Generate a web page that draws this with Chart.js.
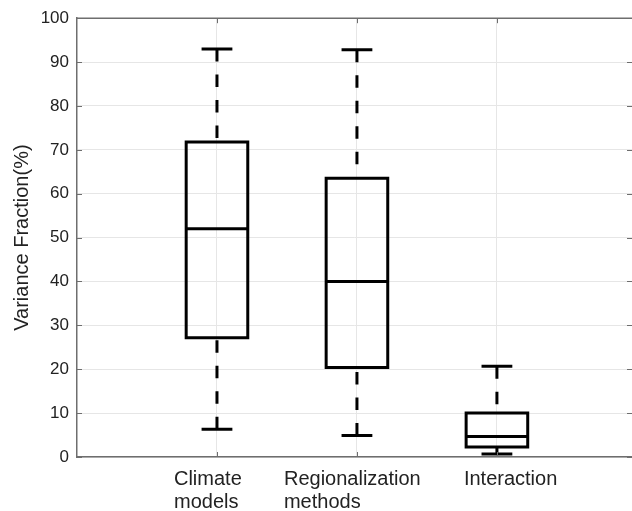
<!DOCTYPE html>
<html>
<head>
<meta charset="utf-8">
<script src="https://cdn.jsdelivr.net/npm/chart.js@4.4.1/dist/chart.umd.min.js"></script>
<style>
    html, body { margin: 0; padding: 0; background: #fff; }
    #wrap { width: 632px; height: 511px; }
</style>
</head>
<body>
<div id="wrap"><canvas id="graphique"></canvas></div>
<script>
// données
const categories = [['Climate', 'models'], ['Regionalization', 'methods'], ['Interaction']];
const positions = [1, 2, 3];
const whiskerHigh = [93, 92.8, 20.7];
const quartile3 = [71.8, 63.5, 10];
const medians = [52, 40, 4.7];
const quartile1 = [27.2, 20.4, 2.3];
const whiskerLow = [6.3, 4.9, 0.7];
const yTicks = [0, 10, 20, 30, 40, 50, 60, 70, 80, 90, 100];

const BOX = 0.22;    // demi-largeur des boites (unités x)
const CAP = 0.11;    // demi-largeur des moustaches
const AXIS = '#6e6e6e';
const GRID = '#e6e6e6';
const TEXT = '#222';

/**
 * Crée un segment noir pour le graphique
 */
function segment(points, extra) {
    return Object.assign({
        data: points.map(p => ({x: p[0], y: p[1]})),
        showLine: true,
        borderColor: '#000',
        borderWidth: 3,
        pointRadius: 0,
        borderJoinStyle: 'miter',
        fill: false
    }, extra || {});
}

const datasets = [];
positions.forEach((x, i) => {
    datasets.push(segment([[x - BOX, quartile1[i]], [x + BOX, quartile1[i]], [x + BOX, quartile3[i]],
        [x - BOX, quartile3[i]], [x - BOX, quartile1[i]]], {borderCapStyle: 'square'}));
    datasets.push(segment([[x - BOX, medians[i]], [x + BOX, medians[i]]]));
    datasets.push(segment([[x, whiskerHigh[i]], [x, quartile3[i]]], {borderDash: [12.5, 13]}));
    datasets.push(segment([[x, whiskerLow[i]], [x, quartile1[i]]], {borderDash: [12.5, 13]}));
    datasets.push(segment([[x - CAP, whiskerHigh[i]], [x + CAP, whiskerHigh[i]]]));
    datasets.push(segment([[x - CAP, whiskerLow[i]], [x + CAP, whiskerLow[i]]]));
});

// cadre du haut, petits ticks intérieurs et libellés des catégories
const cadrePlugin = {
    id: 'cadre',
    afterDraw(chart) {
        const ctx = chart.ctx;
        const area = chart.chartArea;
        const xs = chart.scales.x;
        const ys = chart.scales.y;
        ctx.save();
        ctx.strokeStyle = AXIS;
        ctx.lineWidth = 1.5;
        ctx.beginPath();
        ctx.moveTo(area.left, area.top);
        ctx.lineTo(area.right, area.top);
        ctx.stroke();

        ctx.lineWidth = 1;
        ctx.beginPath();
        yTicks.forEach(v => {
            const py = Math.round(ys.getPixelForValue(v)) + 0.5;
            ctx.moveTo(area.left, py);
            ctx.lineTo(area.left + 5, py);
            ctx.moveTo(area.right, py);
            ctx.lineTo(area.right - 5, py);
        });
        positions.forEach(v => {
            const px = Math.round(xs.getPixelForValue(v)) + 0.5;
            ctx.moveTo(px, area.bottom);
            ctx.lineTo(px, area.bottom - 5);
            ctx.moveTo(px, area.top);
            ctx.lineTo(px, area.top + 5);
        });
        ctx.stroke();

        const decalage = [-43, -73, -33];
        ctx.fillStyle = TEXT;
        ctx.font = '20px "Liberation Sans", Arial, sans-serif';
        ctx.textAlign = 'left';
        ctx.textBaseline = 'alphabetic';
        categories.forEach((lignes, i) => {
            const px = xs.getPixelForValue(positions[i]) + decalage[i];
            lignes.forEach((txt, j) => {
                ctx.fillText(txt, px, area.bottom + 28 + j * 22.5);
            });
        });
        ctx.restore();
    }
};

const ctx = document.getElementById('graphique').getContext('2d');
new Chart(ctx, {
    type: 'scatter',
    data: {datasets: datasets},
    plugins: [cadrePlugin],
    options: {
        responsive: true,
        maintainAspectRatio: false,
        animation: false,
        layout: {padding: {top: 15, right: 0, left: 0, bottom: 0}},
        plugins: {
            legend: {display: false},
            tooltip: {enabled: false}
        },
        scales: {
            x: {
                type: 'linear',
                min: 0,
                max: 3.965,
                afterBuildTicks: s => { s.ticks = positions.map(v => ({value: v})); },
                afterFit: s => { s.height = 54; },
                ticks: {display: false},
                grid: {color: GRID, drawTicks: false, lineWidth: 1},
                border: {color: AXIS, width: 1.5}
            },
            y: {
                type: 'linear',
                min: 0,
                max: 100,
                afterBuildTicks: s => { s.ticks = yTicks.map(v => ({value: v})); },
                afterFit: s => { s.width = 77; },
                ticks: {
                    color: TEXT,
                    padding: 8,
                    font: {family: '"Liberation Sans", Arial, sans-serif', size: 17}
                },
                grid: {color: GRID, drawTicks: false, lineWidth: 1},
                border: {color: AXIS, width: 1.5},
                title: {
                    display: true,
                    text: 'Variance Fraction(%)',
                    color: TEXT,
                    padding: {top: 10, bottom: 0},
                    font: {family: '"Liberation Sans", Arial, sans-serif', size: 20}
                }
            }
        }
    }
});
</script>
</body>
</html>
